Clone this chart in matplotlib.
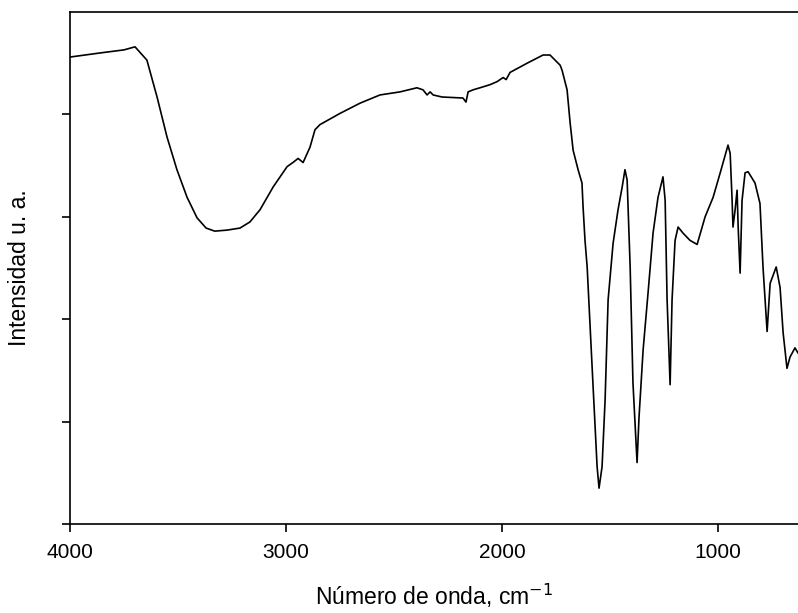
import matplotlib
matplotlib.use('Agg')
import matplotlib.pyplot as plt

# IR spectrum (wavenumber in cm-1, intensity in arbitrary units)
wavenumber = [4000, 3861, 3750, 3699, 3644, 3597, 3551, 3505, 3458, 3412,
              3370, 3330, 3273, 3213, 3167, 3120, 3060, 2995, 2968, 2944, 2921,
              2889, 2866, 2843, 2750, 2657, 2565, 2472, 2394, 2366, 2347,
              2333, 2319, 2278, 2181, 2167, 2157, 2134, 2102, 2056, 2023,
              1995, 1981, 1963, 1884, 1810, 1778, 1731, 1722, 1699, 1685,
              1671, 1648, 1630, 1625, 1616, 1606, 1583, 1560, 1551, 1537,
              1523, 1509, 1486, 1463, 1444, 1431, 1421, 1407, 1394, 1375,
              1366, 1347, 1324, 1301, 1278, 1255, 1245, 1236, 1222, 1213,
              1199, 1185, 1162, 1130, 1097, 1060, 1023, 990, 954, 944,
              935, 931, 921, 912, 907, 898, 889, 875, 861, 829,
              806, 792, 773, 759, 731, 713, 699, 681, 667, 644, 630]
intensity = [4.56, 4.60, 4.63, 4.66, 4.53, 4.17, 3.78, 3.46, 3.19, 2.99,
             2.89, 2.86, 2.87, 2.89, 2.95, 3.07, 3.29, 3.49, 3.53, 3.57, 3.53,
             3.68, 3.85, 3.90, 4.01, 4.11, 4.19, 4.22, 4.26, 4.24, 4.19,
             4.22, 4.19, 4.17, 4.16, 4.12, 4.22, 4.24, 4.26, 4.29, 4.32,
             4.36, 4.34, 4.41, 4.50, 4.58, 4.58, 4.48, 4.43, 4.24, 3.92,
             3.65, 3.46, 3.33, 3.10, 2.77, 2.51, 1.53, 0.56, 0.35, 0.56,
             1.21, 2.19, 2.74, 3.07, 3.29, 3.46, 3.36, 2.51, 1.38, 0.60,
             1.04, 1.70, 2.26, 2.84, 3.19, 3.39, 3.16, 2.19, 1.36, 2.19,
             2.77, 2.90, 2.84, 2.77, 2.73, 3.00, 3.19, 3.43, 3.70, 3.62,
             3.16, 2.90, 3.07, 3.26, 2.90, 2.45, 3.16, 3.43, 3.44, 3.33,
             3.13, 2.51, 1.88, 2.35, 2.51, 2.31, 1.87, 1.52, 1.63, 1.72, 1.67]

fig = plt.figure(figsize=(7.98, 6.13), dpi=100)
ax = fig.add_axes([70/798, 89/613, 1 - 70/798, 512/613])

ax.plot(wavenumber, intensity, color='black', lw=1.2)

ax.set_xlim(4000, 630)
ax.set_ylim(0, 5)
ax.set_xticks([4000, 3000, 2000, 1000])
ax.set_yticks([0, 1, 2, 3, 4])
ax.set_yticklabels([])
ax.spines['right'].set_visible(False)
for s in ax.spines.values():
    s.set_linewidth(1.2)
ax.tick_params(direction='out', length=6, width=1.2, labelsize=15, pad=8)
for lab in ax.get_xticklabels():
    lab.set_family('Liberation Sans')

ax.set_xlabel('Número de onda, cm$^{-1}$', fontsize=16.5, family='Liberation Sans', labelpad=14)
ax.set_ylabel('Intensidad u. a.', fontsize=16.5, family='Liberation Sans', labelpad=14)

plt.savefig('out.png', dpi=100)
